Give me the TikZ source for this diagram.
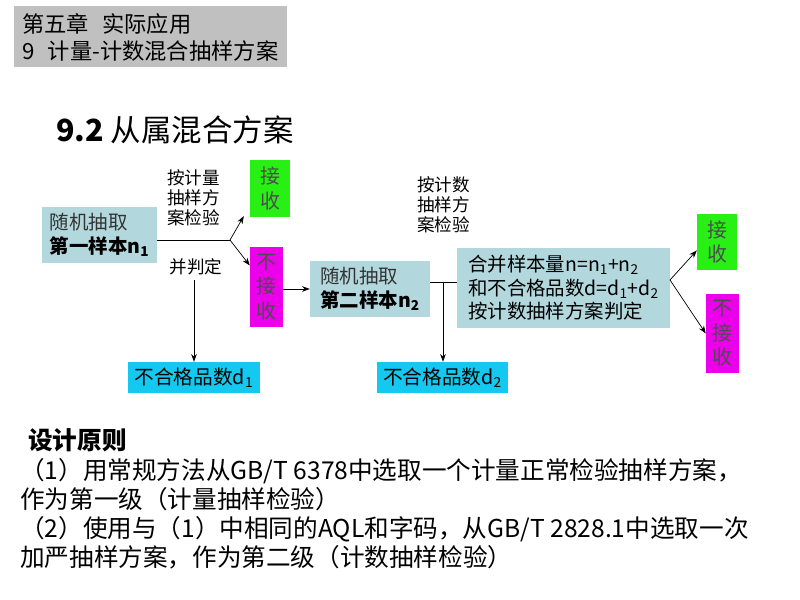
\documentclass[tikz,border=0pt]{standalone}
\usepackage{fontspec}
\setmainfont{Noto Sans CJK SC}
\usepackage{xcolor}
\usepackage{tikz}
\usetikzlibrary{arrows.meta, positioning, calc}
\definecolor{headgray}{RGB}{192, 192, 192}
\definecolor{paleteal}{RGB}{178, 216, 222}
\definecolor{okgreen}{RGB}{40, 240, 20}
\definecolor{nogo}{RGB}{236, 0, 236}
\definecolor{skyblue}{RGB}{20, 200, 240}
\newcommand{\fs}[2]{\fontsize{#1}{#2}\selectfont}
\tikzstyle{sample} = [rectangle, fill=paleteal, align=left, inner sep=0pt, font=\fs{16.6}{20}]
\tikzstyle{accept} = [rectangle, fill=okgreen, align=center, text=black!70, inner sep=0pt, font=\fs{17}{21}]
\tikzstyle{reject} = [rectangle, fill=nogo, align=center, text=black!70, inner sep=0pt, font=\fs{17}{21}]
\tikzstyle{defects} = [rectangle, fill=skyblue, inner sep=0pt, font=\fs{16.8}{20}]
\tikzstyle{note} = [align=center, inner sep=0pt, font=\fs{15}{17}]
\tikzstyle{arrow} = [line width=0.6pt, ->, >={Stealth[length=2.3mm, width=1.7mm]}]
\tikzstyle{plain} = [line width=0.6pt]

\begin{document}
\begin{tikzpicture}[x=0.03cm, y=-0.03cm]
    \useasboundingbox (0,0) rectangle (800,600);

    % Header
    \node[fill=headgray, minimum width=8.19cm, minimum height=1.83cm] (head) at (150.5,36.5) {};
    \node[anchor=west, align=left, inner sep=0pt, font=\fs{19}{23}] (headtxt) at (22,37)
        {第五章\hspace{0.6em}实际应用\\9\hspace{0.6em}计量-计数混合抽样方案};

    % Title
    \node[anchor=west, inner sep=0pt, font=\fs{26}{30}] (title) at (56,130) {\textbf{9.2} 从属混合方案};

    % First stage
    \node[sample, minimum width=3.45cm, minimum height=1.68cm] (first) at (99.5,235)
        {{\color{black!80}随机抽取}\\\textbf{第一样本n\textsubscript{1}}};
    \node[note] (vplan) at (193.5,198) {按计量\\抽样方\\案检验};
    \node[note] (judge) at (196,267) {并判定};
    \node[accept, minimum width=1.2cm, minimum height=1.71cm] (acc1) at (270,188.5) {接\\收};
    \node[reject, minimum width=0.99cm, minimum height=2.4cm] (rej1) at (266.5,287) {不\\接\\收};
    \node[defects, minimum width=3.96cm, minimum height=0.93cm] (nc1) at (194,377.5) {不合格品数d\textsubscript{1}};
    \coordinate (fork1) at (230,240);

    % Second stage
    \node[sample, minimum width=3.6cm, minimum height=1.68cm] (second) at (370,289)
        {{\color{black!80}随机抽取}\\\textbf{第二样本n\textsubscript{2}}};
    \node[note] (aplan) at (443.5,205) {按计数\\抽样方\\案检验};
    \node[sample, minimum width=6.39cm, minimum height=2.4cm] (merge) at (563.5,288)
        {合并样本量n=n\textsubscript{1}+n\textsubscript{2}\\和不合格品数d=d\textsubscript{1}+d\textsubscript{2}\\按计数抽样方案判定};
    \node[defects, minimum width=3.93cm, minimum height=0.93cm] (nc2) at (442.5,377.5) {不合格品数d\textsubscript{2}};
    \node[accept, minimum width=1.2cm, minimum height=1.68cm] (acc2) at (717,242) {接\\收};
    \node[reject, minimum width=0.99cm, minimum height=2.37cm] (rej2) at (722.5,333.5) {不\\接\\收};
    \coordinate (fork2) at (443,282);
    \coordinate (fork3) at (670,280);

    % Connections
    \draw[plain] (first.east |- fork1) -- (fork1);
    \draw[arrow] (fork1) -- ($(acc1.south west)+(-6,-1)$);
    \draw[arrow] (fork1) -- (rej1);
    \draw[arrow] (nc1.north |- judge.south) ++(0,5) -- (nc1.north);
    \draw[arrow] (rej1.east |- second.west) -- (second.west);
    \draw[plain] (second.east |- fork2) -- (merge.west |- fork2);
    \draw[arrow] (fork2) -- (fork2 |- nc2.north);
    \draw[arrow] (fork3) -- ($(acc2.west)!0.3!(acc2.south west)$);
    \draw[arrow] (fork3) -- (rej2.west);

    % Design principles
    \node[anchor=west, inner sep=0pt, font=\fs{21}{25}] (rules) at (28,440) {\textbf{设计原则}};
    \node[anchor=north west, align=left, inner sep=0pt, font=\fs{21}{24.8}] (ruletxt) at (20,458)
        {（1）用常规方法从GB/T 6378中选取一个计量正常检验抽样方案，\\
         作为第一级（计量抽样检验）\\
         （2）使用与（1）中相同的AQL和字码，从GB/T 2828.1中选取一次\\
         加严抽样方案，作为第二级（计数抽样检验）};
\end{tikzpicture}
\end{document}
